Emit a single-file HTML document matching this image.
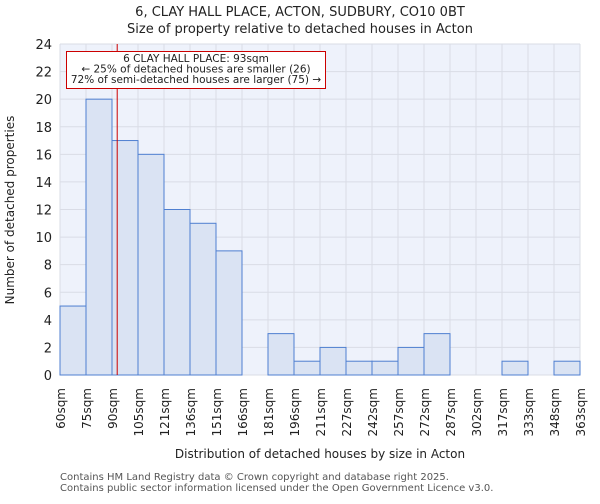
<!DOCTYPE html>
<html><head><meta charset="utf-8"><style>
body{margin:0;background:#fff;font-family:"DejaVu Sans","Liberation Sans",sans-serif}
</style></head><body>
<svg id="c" width="600" height="500" xmlns="http://www.w3.org/2000/svg" font-family="DejaVu Sans, Liberation Sans, sans-serif">
<text x="300" y="16" text-anchor="middle" font-size="13" fill="#222">6, CLAY HALL PLACE, ACTON, SUDBURY, CO10 0BT</text>
<text x="300" y="33" text-anchor="middle" font-size="13" fill="#222">Size of property relative to detached houses in Acton</text>
<rect x="60" y="44" width="520" height="331" fill="#eef2fb"/>
<g id="grid"></g><g id="bars"></g><g id="ticks"></g>
<text transform="translate(14,210) rotate(-90)" text-anchor="middle" font-size="12" fill="#222">Number of detached properties</text>
<text x="320" y="458" text-anchor="middle" font-size="12" fill="#222">Distribution of detached houses by size in Acton</text>
<text x="60" y="480" font-size="10" fill="#555">Contains HM Land Registry data © Crown copyright and database right 2025.</text>
<text x="60" y="491" font-size="10" fill="#555">Contains public sector information licensed under the Open Government Licence v3.0.</text>
<line id="marker" y1="44" y2="375" stroke="#cc0000" stroke-width="1"/>
<g>
<rect x="66.5" y="51.5" width="259" height="37" fill="#fff" stroke="#cc0000" stroke-width="1"/>
<text x="196" y="62" text-anchor="middle" font-size="10.5" fill="#222">6 CLAY HALL PLACE: 93sqm</text>
<text x="196" y="72.5" text-anchor="middle" font-size="10.5" fill="#222">← 25% of detached houses are smaller (26)</text>
<text x="196" y="83" text-anchor="middle" font-size="10.5" fill="#222">72% of semi-detached houses are larger (75) →</text>
</g>
</svg>
<script>
const binLabels=["60sqm","75sqm","90sqm","105sqm","121sqm","136sqm","151sqm","166sqm","181sqm","196sqm","211sqm","227sqm","242sqm","257sqm","272sqm","287sqm","302sqm","317sqm","333sqm","348sqm","363sqm"];
const counts=[5,20,17,16,12,11,9,0,3,1,2,1,1,2,3,0,0,1,0,1];
const yTicks=[0,2,4,6,8,10,12,14,16,18,20,22,24];
const propertySize=93;
const binStart=60, binWidth=15;
const X0=60,X1=580,Y0=375,Y1=44;
const NS="http://www.w3.org/2000/svg";
const bw=(X1-X0)/counts.length;
const xi=i=>X0+i*bw;
const xs=v=>X0+(v-binStart)/binWidth*bw;
const ys=v=>Y0-(v/24)*(Y0-Y1);
function mk(t,a,p){const e=document.createElementNS(NS,t);for(const k in a)e.setAttribute(k,a[k]);p.appendChild(e);return e;}
const grid=document.getElementById('grid'),bars=document.getElementById('bars'),ticks=document.getElementById('ticks');
yTicks.forEach(v=>{
 const l=mk('line',{x1:X0,x2:X1,y1:ys(v),y2:ys(v),stroke:'#d9dce6'},grid);
 
 
 const t=mk('text',{x:52,y:ys(v)+5,'text-anchor':'end','font-size':13,fill:'#222'},ticks);
 t.textContent=v;
 
 
});
binLabels.forEach((s,i)=>{
 const l=mk('line',{x1:xi(i),x2:xi(i),y1:Y1,y2:Y0,stroke:'#d9dce6'},grid);
 
 
 const t=mk('text',{transform:`translate(${xi(i)+5},388) rotate(-90)`,'text-anchor':'end','font-size':12,fill:'#222'},ticks);
 t.textContent=s;
 
 
});
counts.forEach((c,i)=>{
 if(c<=0)return;
 const r=mk('rect',{x:xi(i),y:ys(c),width:bw,height:Y0-ys(c),fill:'#dae3f3',stroke:'#4f7fd0','stroke-width':1},bars);
 
 
});
const m=document.getElementById('marker');m.setAttribute('x1',xs(propertySize));m.setAttribute('x2',xs(propertySize));
</script>
</body></html>
